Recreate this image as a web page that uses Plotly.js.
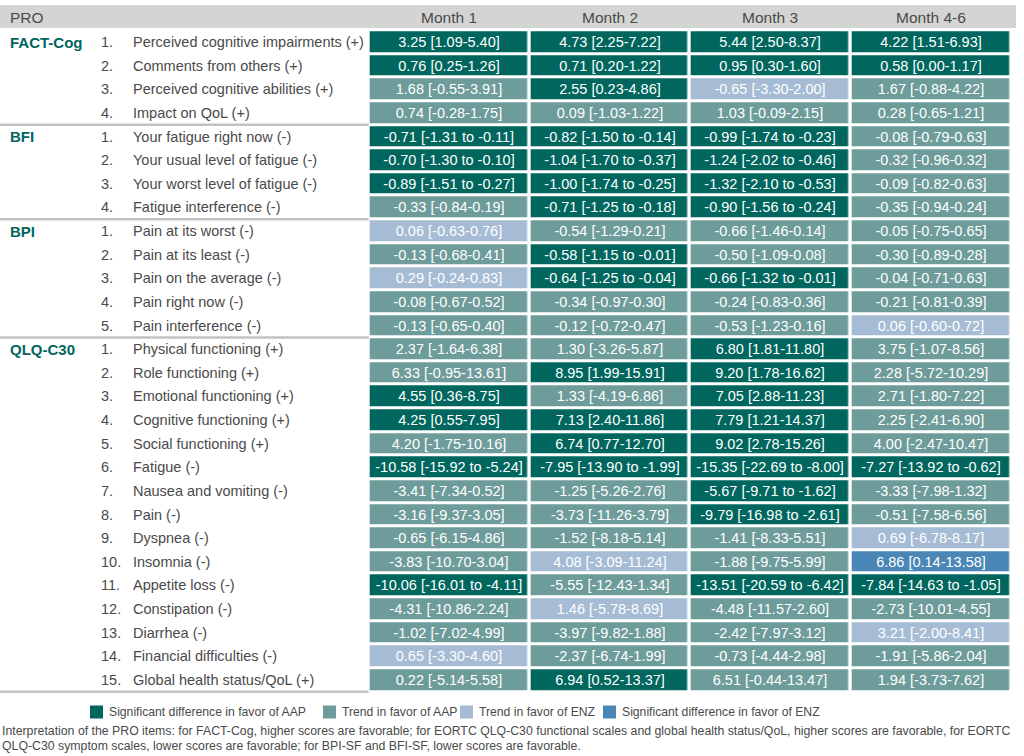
<!DOCTYPE html>
<html><head><meta charset="utf-8">
<script src="https://cdn.plot.ly/plotly-3.0.1.min.js"></script>
<style>html,body{margin:0;padding:0;background:#fff}#chart{width:1024px;height:756px}</style>
</head><body><div id="chart"></div>
<script>
// ---------- data ----------
const months = ["Month 1", "Month 2", "Month 3", "Month 4-6"];
const groups = ["FACT-Cog", "BFI", "BPI", "QLQ-C30"];
const groupSizes = [4, 4, 5, 15];
const items = [
  "Perceived cognitive impairments (+)", "Comments from others (+)", "Perceived cognitive abilities (+)", "Impact on QoL (+)",
  "Your fatigue right now (-)", "Your usual level of fatigue (-)", "Your worst level of fatigue (-)", "Fatigue interference (-)",
  "Pain at its worst (-)", "Pain at its least (-)", "Pain on the average (-)", "Pain right now (-)", "Pain interference (-)",
  "Physical functioning (+)", "Role functioning (+)", "Emotional functioning (+)", "Cognitive functioning (+)", "Social functioning (+)",
  "Fatigue (-)", "Nausea and vomiting (-)", "Pain (-)", "Dyspnea (-)", "Insomnia (-)", "Appetite loss (-)", "Constipation (-)",
  "Diarrhea (-)", "Financial difficulties (-)", "Global health status/QoL (+)"
];
const categoryNames = ["Significant difference in favor of AAP", "Trend in favor of AAP", "Trend in favor of ENZ", "Significant difference in favor of ENZ"];
const categoryColors = ["#00665e", "#6e9c9b", "#a5bcd4", "#4a87b6"];

const month1Text = ["3.25 [1.09-5.40]","0.76 [0.25-1.26]","1.68 [-0.55-3.91]","0.74 [-0.28-1.75]","-0.71 [-1.31 to -0.11]","-0.70 [-1.30 to -0.10]","-0.89 [-1.51 to -0.27]","-0.33 [-0.84-0.19]","0.06 [-0.63-0.76]","-0.13 [-0.68-0.41]","0.29 [-0.24-0.83]","-0.08 [-0.67-0.52]","-0.13 [-0.65-0.40]","2.37 [-1.64-6.38]","6.33 [-0.95-13.61]","4.55 [0.36-8.75]","4.25 [0.55-7.95]","4.20 [-1.75-10.16]","-10.58 [-15.92 to -5.24]","-3.41 [-7.34-0.52]","-3.16 [-9.37-3.05]","-0.65 [-6.15-4.86]","-3.83 [-10.70-3.04]","-10.06 [-16.01 to -4.11]","-4.31 [-10.86-2.24]","-1.02 [-7.02-4.99]","0.65 [-3.30-4.60]","0.22 [-5.14-5.58]"];
const month2Text = ["4.73 [2.25-7.22]","0.71 [0.20-1.22]","2.55 [0.23-4.86]","0.09 [-1.03-1.22]","-0.82 [-1.50 to -0.14]","-1.04 [-1.70 to -0.37]","-1.00 [-1.74 to -0.25]","-0.71 [-1.25 to -0.18]","-0.54 [-1.29-0.21]","-0.58 [-1.15 to -0.01]","-0.64 [-1.25 to -0.04]","-0.34 [-0.97-0.30]","-0.12 [-0.72-0.47]","1.30 [-3.26-5.87]","8.95 [1.99-15.91]","1.33 [-4.19-6.86]","7.13 [2.40-11.86]","6.74 [0.77-12.70]","-7.95 [-13.90 to -1.99]","-1.25 [-5.26-2.76]","-3.73 [-11.26-3.79]","-1.52 [-8.18-5.14]","4.08 [-3.09-11.24]","-5.55 [-12.43-1.34]","1.46 [-5.78-8.69]","-3.97 [-9.82-1.88]","-2.37 [-6.74-1.99]","6.94 [0.52-13.37]"];
const month3Text = ["5.44 [2.50-8.37]","0.95 [0.30-1.60]","-0.65 [-3.30-2.00]","1.03 [-0.09-2.15]","-0.99 [-1.74 to -0.23]","-1.24 [-2.02 to -0.46]","-1.32 [-2.10 to -0.53]","-0.90 [-1.56 to -0.24]","-0.66 [-1.46-0.14]","-0.50 [-1.09-0.08]","-0.66 [-1.32 to -0.01]","-0.24 [-0.83-0.36]","-0.53 [-1.23-0.16]","6.80 [1.81-11.80]","9.20 [1.78-16.62]","7.05 [2.88-11.23]","7.79 [1.21-14.37]","9.02 [2.78-15.26]","-15.35 [-22.69 to -8.00]","-5.67 [-9.71 to -1.62]","-9.79 [-16.98 to -2.61]","-1.41 [-8.33-5.51]","-1.88 [-9.75-5.99]","-13.51 [-20.59 to -6.42]","-4.48 [-11.57-2.60]","-2.42 [-7.97-3.12]","-0.73 [-4.44-2.98]","6.51 [-0.44-13.47]"];
const month46Text = ["4.22 [1.51-6.93]","0.58 [0.00-1.17]","1.67 [-0.88-4.22]","0.28 [-0.65-1.21]","-0.08 [-0.79-0.63]","-0.32 [-0.96-0.32]","-0.09 [-0.82-0.63]","-0.35 [-0.94-0.24]","-0.05 [-0.75-0.65]","-0.30 [-0.89-0.28]","-0.04 [-0.71-0.63]","-0.21 [-0.81-0.39]","0.06 [-0.60-0.72]","3.75 [-1.07-8.56]","2.28 [-5.72-10.29]","2.71 [-1.80-7.22]","2.25 [-2.41-6.90]","4.00 [-2.47-10.47]","-7.27 [-13.92 to -0.62]","-3.33 [-7.98-1.32]","-0.51 [-7.58-6.56]","0.69 [-6.78-8.17]","6.86 [0.14-13.58]","-7.84 [-14.63 to -1.05]","-2.73 [-10.01-4.55]","3.21 [-2.00-8.41]","-1.91 [-5.86-2.04]","1.94 [-3.73-7.62]"];

// 0 = significant AAP, 1 = trend AAP, 2 = trend ENZ, 3 = significant ENZ
const month1Class  = [0,0,1,1, 0,0,0,1, 2,1,2,1,1, 1,1,0,0,1,0,1,1,1,1,0,1,1,2,1];
const month2Class  = [0,0,0,1, 0,0,0,0, 1,0,0,1,1, 1,0,1,0,0,0,1,1,1,2,1,2,1,1,0];
const month3Class  = [0,0,2,1, 0,0,0,0, 1,1,0,1,1, 0,0,0,0,0,0,0,0,1,1,0,1,1,1,1];
const month46Class = [0,0,1,1, 1,1,1,1, 1,1,1,1,2, 1,1,1,1,1,0,1,1,2,3,0,1,2,1,1];

const footnote1 = "Interpretation of the PRO items: for FACT-Cog, higher scores are favorable; for EORTC QLQ-C30 functional scales and global health status/QoL, higher scores are favorable, for EORTC";
const footnote2 = "QLQ-C30 symptom scales, lower scores are favorable; for BPI-SF and BFI-SF, lower scores are favorable.";

// ---------- build ----------
const W = 1024, H = 756;
const colStart = 449, colStep = 160.67;     // pixel centre of first month column, spacing
const rowStart = 42, rowStep = 23.63;       // pixel centre of first row, spacing
const px2x = p => (p - colStart) / colStep;
const py2y = p => (p - rowStart) / rowStep;

const nRows = items.length;
const classCols = [month1Class, month2Class, month3Class, month46Class];
const textCols = [month1Text, month2Text, month3Text, month46Text];
const z = [], txt = [], rows = [];
for (let r = 0; r < nRows; r++) {
  rows.push(r);
  z.push(classCols.map(c => c[r]));
  txt.push(textCols.map(c => c[r]));
}
const cs = [
  [0, categoryColors[0]], [0.1667, categoryColors[0]],
  [0.1667, categoryColors[1]], [0.5, categoryColors[1]],
  [0.5, categoryColors[2]], [0.8333, categoryColors[2]],
  [0.8333, categoryColors[3]], [1, categoryColors[3]]
];

const baseFont = "Liberation Sans, Arial, sans-serif";
const heat = {
  type: "heatmap",
  x: [0, 1, 2, 3], y: rows, z: z, text: txt,
  texttemplate: "%{text}",
  textfont: {family: baseFont, size: 14.5, color: "#ffffff"},
  colorscale: cs, zmin: 0, zmax: 3, showscale: false,
  xgap: 3.5, ygap: 3, hoverinfo: "skip"
};

const textColor = "#4a4a4a";
const annotations = [];
const shapes = [];

// header band
shapes.push({type: "rect", xref: "x", yref: "y", x0: px2x(0), x1: px2x(1016), y0: py2y(5), y1: py2y(28),
  fillcolor: "#d4d4d4", line: {width: 0}, layer: "below"});
annotations.push({xref: "x", yref: "y", x: px2x(8), y: py2y(17), text: "PRO", showarrow: false,
  xanchor: "left", yanchor: "middle", font: {family: baseFont, size: 15.5, color: textColor}});
months.forEach((m, i) => annotations.push({xref: "x", yref: "y", x: i, y: py2y(17), text: m, showarrow: false,
  xanchor: "center", yanchor: "middle", font: {family: baseFont, size: 15.5, color: textColor}}));

// left labels
let r0 = 0;
groups.forEach((g, gi) => {
  annotations.push({xref: "x", yref: "y", x: px2x(8), y: r0, text: "<b>" + g + "</b>", showarrow: false,
    xanchor: "left", yanchor: "middle", font: {family: baseFont, size: 15, color: categoryColors[0]}});
  for (let k = 0; k < groupSizes[gi]; k++) {
    const r = r0 + k;
    annotations.push({xref: "x", yref: "y", x: px2x(99), y: r, text: (k + 1) + ".", showarrow: false,
      xanchor: "left", yanchor: "middle", font: {family: baseFont, size: 14.5, color: textColor}});
    annotations.push({xref: "x", yref: "y", x: px2x(131), y: r, text: items[r], showarrow: false,
      xanchor: "left", yanchor: "middle", font: {family: baseFont, size: 14.5, color: textColor}});
  }
  r0 += groupSizes[gi];
  shapes.push({type: "line", xref: "x", yref: "y", x0: px2x(0), x1: -0.5, y0: r0 - 0.5, y1: r0 - 0.5,
    line: {color: "#c2c2c2", width: 2.5}});
});

// legend
const legendX = [90, 323, 460, 603];
const legendY = 712;
categoryNames.forEach((n, i) => {
  shapes.push({type: "rect", xref: "x", yref: "y", x0: px2x(legendX[i]), x1: px2x(legendX[i] + 13),
    y0: py2y(legendY - 6.5), y1: py2y(legendY + 6.5), fillcolor: categoryColors[i], line: {width: 0}});
  annotations.push({xref: "x", yref: "y", x: px2x(legendX[i] + 17), y: py2y(legendY), text: n, showarrow: false,
    xanchor: "left", yanchor: "middle", font: {family: baseFont, size: 12.2, color: textColor}});
});

// footnote
annotations.push({xref: "x", yref: "y", x: px2x(0), y: py2y(731), text: footnote1, showarrow: false,
  xanchor: "left", yanchor: "middle", font: {family: baseFont, size: 12.3, color: textColor}});
annotations.push({xref: "x", yref: "y", x: px2x(0), y: py2y(746), text: footnote2, showarrow: false,
  xanchor: "left", yanchor: "middle", font: {family: baseFont, size: 12.3, color: textColor}});

const layout = {
  width: W, height: H,
  margin: {l: 0, r: 0, t: 0, b: 0, pad: 0},
  paper_bgcolor: "#ffffff", plot_bgcolor: "#ffffff",
  showlegend: false,
  xaxis: {range: [px2x(0), px2x(W)], visible: false, fixedrange: true},
  yaxis: {range: [py2y(H), py2y(0)], visible: false, fixedrange: true},
  shapes: shapes, annotations: annotations
};
Plotly.newPlot("chart", [heat], layout, {displayModeBar: false, staticPlot: true});
</script>
</body></html>
